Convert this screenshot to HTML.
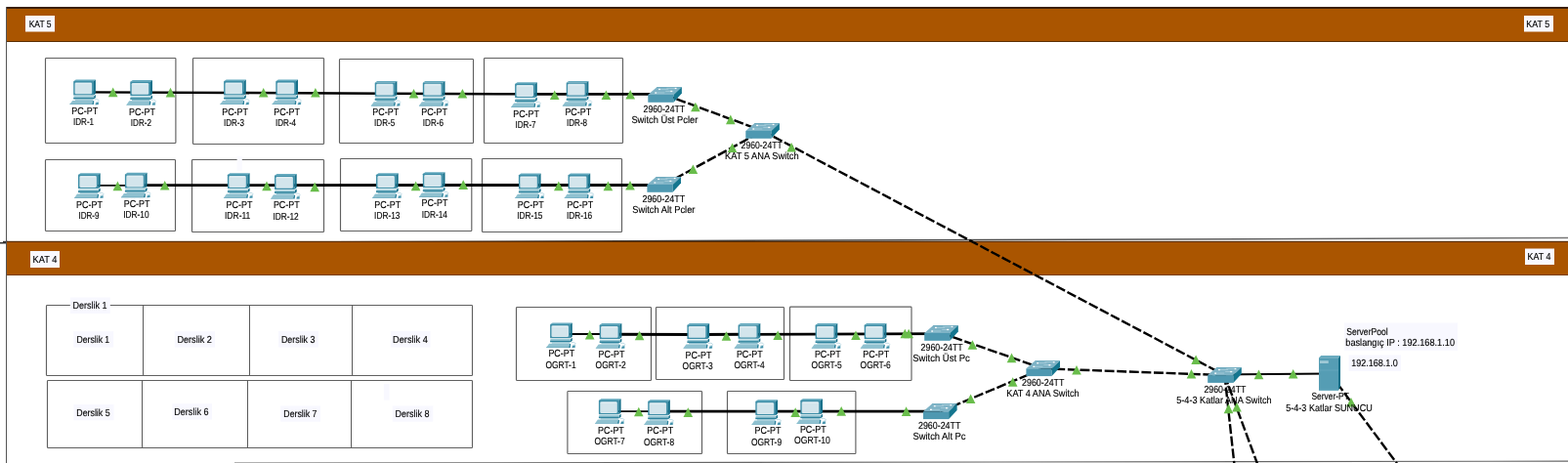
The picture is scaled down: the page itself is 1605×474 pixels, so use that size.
<!DOCTYPE html>
<html lang="tr">
<head>
<meta charset="utf-8">
<title>KAT 5 - KAT 4 Ağ Topolojisi</title>
<style>
html,body{margin:0;padding:0;background:#fff;}
body{width:1605px;height:474px;overflow:hidden;}
svg{display:block;will-change:transform;}
text{font-family:"Liberation Sans",sans-serif;text-rendering:geometricPrecision;fill:#000;stroke:#000;stroke-width:0.14px;}
</style>
</head>
<body>
<svg width="1605" height="474" viewBox="0 0 1605 474">
<defs>
<linearGradient id="slg" gradientUnits="userSpaceOnUse" x1="0" y1="0" x2="1605" y2="0"><stop offset="0" stop-color="#333"/><stop offset="0.6" stop-color="#4a4a4a"/><stop offset="1" stop-color="#777"/></linearGradient>
<symbol id="pc" width="32" height="27" viewBox="0 0 32 27" overflow="visible">
  <polygon points="3.7,1.7 6.2,0 26.4,0 24.3,1.7" fill="#64aabf"/>
  <rect x="3.7" y="1.5" width="20.7" height="14.4" rx="0.6" fill="#3f8fa8"/>
  <polygon points="24.3,1.7 26.4,0 26.4,14.1 24.3,15.9" fill="#17708a"/>
  <rect x="5.1" y="2.9" width="17.5" height="11.8" rx="1.3" fill="#d3e5ec"/>
  <rect x="5.9" y="3.5" width="15.9" height="1" rx="0.5" fill="#e4f0f4"/>
  <rect x="4" y="16.6" width="20.8" height="1.6" fill="#9ccad7"/>
  <polygon points="24.8,16.6 26.4,15.4 26.4,18.4 24.6,19.9" fill="#17708a"/>
  <rect x="3.7" y="18.2" width="20.9" height="1.7" fill="#2d839d"/>
  <rect x="5.4" y="19.9" width="18.2" height="1.3" fill="#8ec0cf"/>
  <polygon points="-0.3,25.5 2.7,21.3 23.6,21.3 22.6,25.5" fill="#8fc1d0"/>
  <polygon points="-0.3,25.5 22.6,25.5 22.6,24.9 0.1,24.9" fill="#6aaabd"/>
  <polygon points="22.6,25.5 23.6,21.3 24.8,21.9 24.4,25.5" fill="#2d839d"/>
  <path d="M25.4,20.4 C27.4,19.8 29.4,20.2 30,21.6" fill="none" stroke="#a9cfdc" stroke-width="0.8"/>
  <polygon points="26.6,22.6 29.9,21.8 29.6,25.4 25.6,25.6" fill="#b9d9e3"/>
  <polygon points="26.8,23.8 29,23.2 29.3,25.4 26.2,25.6" fill="#3f8fa8"/>
</symbol>
<symbol id="sw" width="36" height="17" viewBox="0 0 36 17" overflow="visible">
  <polygon points="9.2,0 34.6,0 26.2,8 0,8" fill="#7eb3c6"/>
  <rect x="0" y="8" width="26.2" height="7.8" fill="#4e98b1"/>
  <polygon points="26.2,8 34.6,0 34.6,6.6 26.2,15.8" fill="#15768f"/>
  <polygon points="9.2,0 34.6,0 34.2,0.5 8.7,0.5" fill="#5ea2b8"/>
  <g stroke="#a5ccd9" stroke-width="0.9" fill="none">
    <line x1="12" y1="2.4" x2="21" y2="2.4"/>
    <line x1="18" y1="4.4" x2="26" y2="4.4"/>
    <line x1="8" y1="6" x2="17" y2="6"/>
    <line x1="19" y1="1.3" x2="27.5" y2="1.3"/>
  </g>
  <g fill="#fff">
    <rect x="10.8" y="1.8" width="1.8" height="1.3"/>
    <rect x="27.4" y="0.8" width="1.8" height="1.3"/>
    <rect x="23" y="3.8" width="1.8" height="1.3"/>
    <rect x="7" y="5.4" width="1.8" height="1.3"/>
  </g>
</symbol>
<symbol id="srv" width="23" height="37" viewBox="0 0 23 37" overflow="visible">
  <polygon points="0,2.2 2.2,0 22,0 20,2.2" fill="#6aabbf"/>
  <rect x="0" y="2.2" width="20" height="33.6" fill="#559db4"/>
  <polygon points="20,2.2 22,0 22,31.6 20,35.8" fill="#0f7089"/>
  <rect x="1" y="5.2" width="8.8" height="2.8" fill="#9fc9d6"/>
  <rect x="0" y="14.6" width="20" height="0.8" fill="#67a9bd"/>
  <rect x="0" y="34.6" width="20" height="1.2" fill="#6aabbf"/>
</symbol>
</defs>
<rect x="6.0" y="8.0" width="1599.0" height="35.0" fill="#aa5500"/>
<rect x="6.0" y="7.0" width="1599.0" height="2.0" fill="#3b1f05"/>
<rect x="6.0" y="42.0" width="1599.0" height="1.0" fill="#5b2e02"/>
<line x1="0.0" y1="248.8" x2="1605.0" y2="243.6" stroke="url(#slg)" stroke-width="1.5"/>
<rect x="6.0" y="247.0" width="1599.0" height="35.0" fill="#aa5500"/>
<line x1="3.0" y1="247.4" x2="8.0" y2="247.4" stroke="#333" stroke-width="1.2"/>
<rect x="6.0" y="246.8" width="1599.0" height="1.2" fill="#5a2c02"/>
<rect x="6.0" y="281.0" width="1599.0" height="1.0" fill="#7a3d00"/>
<line x1="6.5" y1="7.0" x2="6.5" y2="474.0" stroke="#555" stroke-width="1"/>
<line x1="240.0" y1="474.1" x2="1605.0" y2="472.1" stroke="#666" stroke-width="1.1"/>
<rect x="26.0" y="16.0" width="30.0" height="16.5" fill="#f8f8ff"/>
<text x="29.7" y="28.0" textLength="22.9" lengthAdjust="spacingAndGlyphs" font-size="10.2">KAT 5</text>
<rect x="1560.0" y="16.0" width="30.0" height="16.5" fill="#f8f8ff"/>
<text x="1562.3" y="28.0" textLength="23.9" lengthAdjust="spacingAndGlyphs" font-size="10.2">KAT 5</text>
<rect x="31.0" y="257.0" width="30.0" height="17.0" fill="#f8f8ff"/>
<text x="33.6" y="269.0" textLength="24.8" lengthAdjust="spacingAndGlyphs" font-size="10.2">KAT 4</text>
<rect x="1561.0" y="254.5" width="30.0" height="16.5" fill="#f8f8ff"/>
<text x="1563.6" y="266.0" textLength="23.8" lengthAdjust="spacingAndGlyphs" font-size="10.2">KAT 4</text>
<rect x="46.5" y="59.5" width="133.4" height="87.0" rx="0.8" fill="none" stroke="#606060" stroke-width="1.15"/>
<rect x="197.5" y="59.5" width="134.0" height="88.0" rx="0.8" fill="none" stroke="#606060" stroke-width="1.15"/>
<rect x="347.5" y="60.5" width="137.0" height="86.0" rx="0.8" fill="none" stroke="#606060" stroke-width="1.15"/>
<rect x="495.5" y="59.5" width="142.0" height="87.0" rx="0.8" fill="none" stroke="#606060" stroke-width="1.15"/>
<rect x="46.5" y="163.5" width="133.0" height="73.0" rx="0.8" fill="none" stroke="#606060" stroke-width="1.15"/>
<rect x="196.5" y="163.5" width="135.0" height="74.0" rx="0.8" fill="none" stroke="#606060" stroke-width="1.15"/>
<rect x="348.5" y="162.5" width="134.3" height="74.0" rx="0.8" fill="none" stroke="#606060" stroke-width="1.15"/>
<rect x="493.5" y="162.5" width="143.0" height="75.0" rx="0.8" fill="none" stroke="#606060" stroke-width="1.15"/>
<rect x="528.5" y="314.5" width="138.0" height="75.0" rx="0.8" fill="none" stroke="#606060" stroke-width="1.15"/>
<rect x="671.5" y="314.5" width="131.0" height="74.0" rx="0.8" fill="none" stroke="#606060" stroke-width="1.15"/>
<rect x="808.5" y="314.1" width="124.5" height="75.4" rx="0.8" fill="none" stroke="#606060" stroke-width="1.15"/>
<rect x="580.9" y="400.5" width="137.6" height="64.0" rx="0.8" fill="none" stroke="#606060" stroke-width="1.15"/>
<rect x="744.5" y="400.5" width="131.4" height="64.0" rx="0.8" fill="none" stroke="#606060" stroke-width="1.15"/>
<rect x="47.5" y="312.5" width="436.0" height="72.0" rx="0.8" fill="none" stroke="#606060" stroke-width="1.15"/>
<line x1="146.5" y1="312.0" x2="146.5" y2="384.0" stroke="#5a5a5a" stroke-width="1"/>
<line x1="255.5" y1="312.0" x2="255.5" y2="384.0" stroke="#5a5a5a" stroke-width="1"/>
<line x1="360.5" y1="312.0" x2="360.5" y2="384.0" stroke="#5a5a5a" stroke-width="1"/>
<rect x="48.5" y="389.5" width="435.0" height="69.0" rx="0.8" fill="none" stroke="#606060" stroke-width="1.15"/>
<line x1="145.5" y1="389.0" x2="145.5" y2="458.0" stroke="#5a5a5a" stroke-width="1"/>
<line x1="253.5" y1="389.0" x2="253.5" y2="458.0" stroke="#5a5a5a" stroke-width="1"/>
<line x1="359.5" y1="389.0" x2="359.5" y2="458.0" stroke="#5a5a5a" stroke-width="1"/>
<rect x="71.8" y="304.4" width="41.0" height="16.7" fill="#f8f8ff"/>
<text x="74.4" y="316.0" textLength="35.0" lengthAdjust="spacingAndGlyphs" font-size="10.2">Derslik 1</text>
<rect x="75.2" y="339.2" width="41.0" height="16.4" fill="#f8f8ff"/>
<text x="78.5" y="351.0" textLength="33.7" lengthAdjust="spacingAndGlyphs" font-size="10.2">Derslik 1</text>
<rect x="178.8" y="339.2" width="41.2" height="16.4" fill="#f8f8ff"/>
<text x="181.4" y="351.0" textLength="35.5" lengthAdjust="spacingAndGlyphs" font-size="10.2">Derslik 2</text>
<rect x="284.9" y="339.0" width="41.1" height="16.5" fill="#f8f8ff"/>
<text x="287.9" y="351.0" textLength="34.6" lengthAdjust="spacingAndGlyphs" font-size="10.2">Derslik 3</text>
<rect x="399.8" y="339.0" width="40.8" height="16.5" fill="#f8f8ff"/>
<text x="402.1" y="351.0" textLength="35.8" lengthAdjust="spacingAndGlyphs" font-size="10.2">Derslik 4</text>
<rect x="75.4" y="413.9" width="41.2" height="16.4" fill="#f8f8ff"/>
<text x="78.3" y="426.0" textLength="34.3" lengthAdjust="spacingAndGlyphs" font-size="10.2">Derslik 5</text>
<rect x="176.3" y="413.2" width="40.7" height="16.4" fill="#f8f8ff"/>
<text x="178.3" y="425.0" textLength="35.2" lengthAdjust="spacingAndGlyphs" font-size="10.2">Derslik 6</text>
<rect x="287.2" y="415.4" width="40.8" height="16.3" fill="#f8f8ff"/>
<text x="290.3" y="427.0" textLength="34.1" lengthAdjust="spacingAndGlyphs" font-size="10.2">Derslik 7</text>
<rect x="401.7" y="415.4" width="41.6" height="16.3" fill="#f8f8ff"/>
<text x="404.5" y="427.0" textLength="34.9" lengthAdjust="spacingAndGlyphs" font-size="10.2">Derslik 8</text>
<rect x="392.8" y="393.0" width="5.8" height="16.6" fill="#f8f8ff"/>
<rect x="242.6" y="160.0" width="5.2" height="15.5" fill="#fafaff"/>
<rect x="1376.0" y="330.5" width="116.0" height="28.3" fill="#f8f8ff"/>
<text x="1378.2" y="343.0" textLength="42.5" lengthAdjust="spacingAndGlyphs" font-size="10.2">ServerPool</text>
<text x="1377.3" y="354.0" textLength="111.7" lengthAdjust="spacingAndGlyphs" font-size="10.2">baslangıç IP : 192.168.1.10</text>
<rect x="1380.6" y="363.4" width="53.4" height="16.6" fill="#f8f8ff"/>
<text x="1383.2" y="375.0" textLength="47.6" lengthAdjust="spacingAndGlyphs" font-size="10.2">192.168.1.0</text>
<line x1="85.0" y1="94.3" x2="240.0" y2="95.0" stroke="#000" stroke-width="2.3"/>
<line x1="240.0" y1="95.0" x2="395.0" y2="95.8" stroke="#000" stroke-width="2.6"/>
<line x1="395.0" y1="95.8" x2="540.0" y2="96.3" stroke="#000" stroke-width="2.4"/>
<line x1="540.0" y1="96.3" x2="680.0" y2="96.3" stroke="#000" stroke-width="2.8"/>
<line x1="90.0" y1="189.9" x2="140.0" y2="189.9" stroke="#000" stroke-width="1.8"/>
<line x1="140.0" y1="189.6" x2="680.0" y2="189.5" stroke="#000" stroke-width="2.9"/>
<line x1="575.0" y1="342.0" x2="626.0" y2="342.0" stroke="#000" stroke-width="1.8"/>
<line x1="626.0" y1="342.3" x2="715.0" y2="342.5" stroke="#000" stroke-width="2.9"/>
<line x1="715.0" y1="342.5" x2="964.0" y2="341.6" stroke="#000" stroke-width="2.9"/>
<line x1="625.0" y1="421.2" x2="675.0" y2="421.2" stroke="#000" stroke-width="1.8"/>
<line x1="675.0" y1="421.2" x2="962.0" y2="421.1" stroke="#000" stroke-width="2.8"/>
<line x1="1253.7" y1="383.4" x2="1361.0" y2="382.5" stroke="#000" stroke-width="2.2"/>
<line x1="680.6" y1="97.0" x2="780.6" y2="134.0" stroke="#000" stroke-width="2.4" stroke-dasharray="9.9 2.7"/>
<line x1="679.7" y1="189.0" x2="780.6" y2="134.0" stroke="#000" stroke-width="2.4" stroke-dasharray="9.9 2.7"/>
<line x1="780.6" y1="134.0" x2="1253.5" y2="384.1" stroke="#000" stroke-width="2.4" stroke-dasharray="9.9 2.7"/>
<line x1="963.5" y1="341.0" x2="1067.7" y2="377.3" stroke="#000" stroke-width="2.4" stroke-dasharray="9.9 2.7"/>
<line x1="962.3" y1="421.3" x2="1067.7" y2="377.3" stroke="#000" stroke-width="2.4" stroke-dasharray="9.9 2.7"/>
<line x1="1067.7" y1="377.3" x2="1253.5" y2="384.1" stroke="#000" stroke-width="2.4" stroke-dasharray="9.9 2.7"/>
<line x1="1253.5" y1="384.1" x2="1263.5" y2="476.0" stroke="#000" stroke-width="2.4" stroke-dasharray="9.9 2.7"/>
<line x1="1253.5" y1="384.1" x2="1287.5" y2="476.0" stroke="#000" stroke-width="2.4" stroke-dasharray="9.9 2.7"/>
<line x1="1361.0" y1="382.0" x2="1431.0" y2="476.0" stroke="#000" stroke-width="2.4" stroke-dasharray="9.9 2.7"/>
<use href="#pc" x="71.5" y="81.6"/>
<use href="#pc" x="129.6" y="82.0"/>
<use href="#pc" x="225.4" y="81.6"/>
<use href="#pc" x="278.6" y="81.6"/>
<use href="#pc" x="380.0" y="82.9"/>
<use href="#pc" x="429.1" y="82.9"/>
<use href="#pc" x="523.4" y="84.2"/>
<use href="#pc" x="576.0" y="82.9"/>
<use href="#pc" x="76.3" y="177.2"/>
<use href="#pc" x="124.2" y="176.7"/>
<use href="#pc" x="229.2" y="177.2"/>
<use href="#pc" x="277.3" y="178.0"/>
<use href="#pc" x="381.3" y="177.2"/>
<use href="#pc" x="429.1" y="176.2"/>
<use href="#pc" x="527.2" y="177.5"/>
<use href="#pc" x="577.8" y="177.5"/>
<use href="#pc" x="559.4" y="330.4"/>
<use href="#pc" x="610.0" y="331.1"/>
<use href="#pc" x="699.7" y="331.1"/>
<use href="#pc" x="751.9" y="330.9"/>
<use href="#pc" x="830.9" y="331.1"/>
<use href="#pc" x="881.0" y="331.1"/>
<use href="#pc" x="609.2" y="408.3"/>
<use href="#pc" x="659.5" y="409.3"/>
<use href="#pc" x="769.6" y="409.3"/>
<use href="#pc" x="815.6" y="408.3"/>
<use href="#sw" x="663.3" y="89.0"/>
<use href="#sw" x="763.3" y="126.0"/>
<use href="#sw" x="662.4" y="181.0"/>
<use href="#sw" x="946.2" y="333.0"/>
<use href="#sw" x="1050.4" y="369.3"/>
<use href="#sw" x="945.0" y="413.3"/>
<use href="#sw" x="1236.2" y="376.1"/>
<use href="#srv" x="1350.0" y="364.0"/>
<polygon points="115.7,89.6 120.5,99.2 110.9,99.2" fill="#69bd4b"/>
<polygon points="174.5,89.8 179.3,99.4 169.7,99.4" fill="#69bd4b"/>
<polygon points="269.7,90.0 274.5,99.6 264.9,99.6" fill="#69bd4b"/>
<polygon points="322.9,90.0 327.7,99.6 318.1,99.6" fill="#69bd4b"/>
<polygon points="423.5,91.0 428.3,100.6 418.7,100.6" fill="#69bd4b"/>
<polygon points="473.4,91.0 478.2,100.6 468.6,100.6" fill="#69bd4b"/>
<polygon points="567.7,92.5 572.5,102.1 562.9,102.1" fill="#69bd4b"/>
<polygon points="620.4,92.5 625.2,102.1 615.6,102.1" fill="#69bd4b"/>
<polygon points="645.2,92.0 650.0,101.6 640.4,101.6" fill="#69bd4b"/>
<polygon points="120.4,185.6 125.2,195.2 115.6,195.2" fill="#69bd4b"/>
<polygon points="168.7,185.0 173.5,194.6 163.9,194.6" fill="#69bd4b"/>
<polygon points="273.0,185.6 277.8,195.2 268.2,195.2" fill="#69bd4b"/>
<polygon points="322.2,186.6 327.0,196.2 317.4,196.2" fill="#69bd4b"/>
<polygon points="425.6,185.6 430.4,195.2 420.8,195.2" fill="#69bd4b"/>
<polygon points="474.2,184.3 479.0,193.9 469.4,193.9" fill="#69bd4b"/>
<polygon points="571.8,185.6 576.6,195.2 567.0,195.2" fill="#69bd4b"/>
<polygon points="622.4,185.6 627.2,195.2 617.6,195.2" fill="#69bd4b"/>
<polygon points="645.0,185.0 649.8,194.6 640.2,194.6" fill="#69bd4b"/>
<polygon points="711.9,104.7 716.7,114.3 707.1,114.3" fill="#69bd4b"/>
<polygon points="747.8,117.6 752.6,127.2 743.0,127.2" fill="#69bd4b"/>
<polygon points="749.6,146.5 754.4,156.1 744.8,156.1" fill="#69bd4b"/>
<polygon points="810.1,146.0 814.9,155.6 805.3,155.6" fill="#69bd4b"/>
<polygon points="709.4,168.4 714.2,178.0 704.6,178.0" fill="#69bd4b"/>
<polygon points="603.7,338.0 608.5,347.6 598.9,347.6" fill="#69bd4b"/>
<polygon points="654.6,338.7 659.4,348.3 649.8,348.3" fill="#69bd4b"/>
<polygon points="743.5,339.2 748.3,348.8 738.7,348.8" fill="#69bd4b"/>
<polygon points="796.2,338.5 801.0,348.1 791.4,348.1" fill="#69bd4b"/>
<polygon points="876.0,338.5 880.8,348.1 871.2,348.1" fill="#69bd4b"/>
<polygon points="926.3,336.7 931.1,346.3 921.5,346.3" fill="#69bd4b"/>
<polygon points="930.2,336.7 935.0,346.3 925.4,346.3" fill="#69bd4b"/>
<polygon points="653.8,416.7 658.6,426.3 649.0,426.3" fill="#69bd4b"/>
<polygon points="704.3,417.3 709.1,426.9 699.5,426.9" fill="#69bd4b"/>
<polygon points="814.2,417.3 819.0,426.9 809.4,426.9" fill="#69bd4b"/>
<polygon points="861.2,416.1 866.0,425.7 856.4,425.7" fill="#69bd4b"/>
<polygon points="927.6,416.3 932.4,425.9 922.8,425.9" fill="#69bd4b"/>
<polygon points="995.4,348.2 1000.2,357.8 990.6,357.8" fill="#69bd4b"/>
<polygon points="1035.5,361.6 1040.3,371.2 1030.7,371.2" fill="#69bd4b"/>
<polygon points="1036.7,386.2 1041.5,395.8 1031.9,395.8" fill="#69bd4b"/>
<polygon points="993.6,403.5 998.4,413.1 988.8,413.1" fill="#69bd4b"/>
<polygon points="1102.0,374.0 1106.8,383.6 1097.2,383.6" fill="#69bd4b"/>
<polygon points="1224.1,363.4 1228.9,373.0 1219.3,373.0" fill="#69bd4b"/>
<polygon points="1219.5,378.0 1224.3,387.6 1214.7,387.6" fill="#69bd4b"/>
<polygon points="1288.5,378.6 1293.3,388.2 1283.7,388.2" fill="#69bd4b"/>
<polygon points="1323.7,378.0 1328.5,387.6 1318.9,387.6" fill="#69bd4b"/>
<polygon points="1257.5,413.6 1262.3,423.2 1252.7,423.2" fill="#69bd4b"/>
<polygon points="1266.0,412.0 1270.8,421.6 1261.2,421.6" fill="#69bd4b"/>
<polygon points="1383.0,406.9 1387.8,416.5 1378.2,416.5" fill="#69bd4b"/>
<text x="73.3" y="117.0" textLength="26.8" lengthAdjust="spacingAndGlyphs" font-size="10.2">PC-PT</text>
<text x="75.0" y="128.0" textLength="21.1" lengthAdjust="spacingAndGlyphs" font-size="10.2">IDR-1</text>
<text x="132.1" y="118.0" textLength="26.8" lengthAdjust="spacingAndGlyphs" font-size="10.2">PC-PT</text>
<text x="133.8" y="129.0" textLength="21.1" lengthAdjust="spacingAndGlyphs" font-size="10.2">IDR-2</text>
<text x="227.2" y="118.0" textLength="26.8" lengthAdjust="spacingAndGlyphs" font-size="10.2">PC-PT</text>
<text x="228.9" y="129.0" textLength="21.1" lengthAdjust="spacingAndGlyphs" font-size="10.2">IDR-3</text>
<text x="280.2" y="118.0" textLength="26.8" lengthAdjust="spacingAndGlyphs" font-size="10.2">PC-PT</text>
<text x="282.0" y="129.0" textLength="21.1" lengthAdjust="spacingAndGlyphs" font-size="10.2">IDR-4</text>
<text x="381.3" y="118.0" textLength="26.8" lengthAdjust="spacingAndGlyphs" font-size="10.2">PC-PT</text>
<text x="383.1" y="129.0" textLength="21.1" lengthAdjust="spacingAndGlyphs" font-size="10.2">IDR-5</text>
<text x="431.2" y="118.0" textLength="26.8" lengthAdjust="spacingAndGlyphs" font-size="10.2">PC-PT</text>
<text x="432.8" y="129.0" textLength="21.1" lengthAdjust="spacingAndGlyphs" font-size="10.2">IDR-6</text>
<text x="525.2" y="120.0" textLength="26.8" lengthAdjust="spacingAndGlyphs" font-size="10.2">PC-PT</text>
<text x="527.5" y="131.0" textLength="21.1" lengthAdjust="spacingAndGlyphs" font-size="10.2">IDR-7</text>
<text x="578.4" y="118.0" textLength="26.8" lengthAdjust="spacingAndGlyphs" font-size="10.2">PC-PT</text>
<text x="580.0" y="129.0" textLength="21.1" lengthAdjust="spacingAndGlyphs" font-size="10.2">IDR-8</text>
<text x="78.1" y="213.0" textLength="26.8" lengthAdjust="spacingAndGlyphs" font-size="10.2">PC-PT</text>
<text x="80.4" y="224.0" textLength="21.1" lengthAdjust="spacingAndGlyphs" font-size="10.2">IDR-9</text>
<text x="126.7" y="212.0" textLength="26.8" lengthAdjust="spacingAndGlyphs" font-size="10.2">PC-PT</text>
<text x="126.3" y="223.0" textLength="26.3" lengthAdjust="spacingAndGlyphs" font-size="10.2">IDR-10</text>
<text x="231.6" y="213.0" textLength="26.8" lengthAdjust="spacingAndGlyphs" font-size="10.2">PC-PT</text>
<text x="230.0" y="224.0" textLength="26.3" lengthAdjust="spacingAndGlyphs" font-size="10.2">IDR-11</text>
<text x="279.9" y="213.0" textLength="26.8" lengthAdjust="spacingAndGlyphs" font-size="10.2">PC-PT</text>
<text x="279.4" y="225.0" textLength="26.3" lengthAdjust="spacingAndGlyphs" font-size="10.2">IDR-12</text>
<text x="383.3" y="213.0" textLength="26.8" lengthAdjust="spacingAndGlyphs" font-size="10.2">PC-PT</text>
<text x="383.1" y="224.0" textLength="26.3" lengthAdjust="spacingAndGlyphs" font-size="10.2">IDR-13</text>
<text x="431.6" y="211.0" textLength="26.8" lengthAdjust="spacingAndGlyphs" font-size="10.2">PC-PT</text>
<text x="431.7" y="223.0" textLength="26.3" lengthAdjust="spacingAndGlyphs" font-size="10.2">IDR-14</text>
<text x="529.8" y="213.0" textLength="26.8" lengthAdjust="spacingAndGlyphs" font-size="10.2">PC-PT</text>
<text x="529.2" y="224.0" textLength="26.3" lengthAdjust="spacingAndGlyphs" font-size="10.2">IDR-15</text>
<text x="580.4" y="213.0" textLength="26.8" lengthAdjust="spacingAndGlyphs" font-size="10.2">PC-PT</text>
<text x="579.9" y="224.0" textLength="26.3" lengthAdjust="spacingAndGlyphs" font-size="10.2">IDR-16</text>
<text x="561.4" y="365.0" textLength="26.8" lengthAdjust="spacingAndGlyphs" font-size="10.2">PC-PT</text>
<text x="558.4" y="377.0" textLength="31.2" lengthAdjust="spacingAndGlyphs" font-size="10.2">OGRT-1</text>
<text x="612.6" y="366.0" textLength="26.8" lengthAdjust="spacingAndGlyphs" font-size="10.2">PC-PT</text>
<text x="609.6" y="377.0" textLength="31.2" lengthAdjust="spacingAndGlyphs" font-size="10.2">OGRT-2</text>
<text x="701.6" y="367.0" textLength="26.8" lengthAdjust="spacingAndGlyphs" font-size="10.2">PC-PT</text>
<text x="698.6" y="378.0" textLength="31.2" lengthAdjust="spacingAndGlyphs" font-size="10.2">OGRT-3</text>
<text x="753.9" y="366.0" textLength="26.8" lengthAdjust="spacingAndGlyphs" font-size="10.2">PC-PT</text>
<text x="751.4" y="377.0" textLength="31.2" lengthAdjust="spacingAndGlyphs" font-size="10.2">OGRT-4</text>
<text x="833.9" y="366.0" textLength="26.8" lengthAdjust="spacingAndGlyphs" font-size="10.2">PC-PT</text>
<text x="830.6" y="377.0" textLength="31.2" lengthAdjust="spacingAndGlyphs" font-size="10.2">OGRT-5</text>
<text x="883.3" y="366.0" textLength="26.8" lengthAdjust="spacingAndGlyphs" font-size="10.2">PC-PT</text>
<text x="880.6" y="377.0" textLength="31.2" lengthAdjust="spacingAndGlyphs" font-size="10.2">OGRT-6</text>
<text x="612.0" y="444.0" textLength="26.8" lengthAdjust="spacingAndGlyphs" font-size="10.2">PC-PT</text>
<text x="608.4" y="455.0" textLength="31.2" lengthAdjust="spacingAndGlyphs" font-size="10.2">OGRT-7</text>
<text x="662.3" y="444.0" textLength="26.8" lengthAdjust="spacingAndGlyphs" font-size="10.2">PC-PT</text>
<text x="658.9" y="456.0" textLength="31.2" lengthAdjust="spacingAndGlyphs" font-size="10.2">OGRT-8</text>
<text x="772.6" y="444.0" textLength="26.8" lengthAdjust="spacingAndGlyphs" font-size="10.2">PC-PT</text>
<text x="768.9" y="456.0" textLength="31.2" lengthAdjust="spacingAndGlyphs" font-size="10.2">OGRT-9</text>
<text x="818.9" y="443.0" textLength="26.8" lengthAdjust="spacingAndGlyphs" font-size="10.2">PC-PT</text>
<text x="813.1" y="454.0" textLength="36.8" lengthAdjust="spacingAndGlyphs" font-size="10.2">OGRT-10</text>
<text x="658.6" y="115.0" textLength="42.6" lengthAdjust="spacingAndGlyphs" font-size="10.2">2960-24TT</text>
<text x="646.4" y="126.0" textLength="67.9" lengthAdjust="spacingAndGlyphs" font-size="10.2">Switch Üst Pcler</text>
<text x="758.6" y="152.0" textLength="42.1" lengthAdjust="spacingAndGlyphs" font-size="10.2">2960-24TT</text>
<text x="742.1" y="163.0" textLength="75.5" lengthAdjust="spacingAndGlyphs" font-size="10.2">KAT 5 ANA Switch</text>
<text x="657.4" y="207.0" textLength="43.9" lengthAdjust="spacingAndGlyphs" font-size="10.2">2960-24TT</text>
<text x="647.3" y="218.0" textLength="64.1" lengthAdjust="spacingAndGlyphs" font-size="10.2">Switch Alt Pcler</text>
<text x="942.6" y="359.0" textLength="43.1" lengthAdjust="spacingAndGlyphs" font-size="10.2">2960-24TT</text>
<text x="934.3" y="370.0" textLength="58.5" lengthAdjust="spacingAndGlyphs" font-size="10.2">Switch Üst Pc</text>
<text x="1046.1" y="395.0" textLength="43.3" lengthAdjust="spacingAndGlyphs" font-size="10.2">2960-24TT</text>
<text x="1030.3" y="406.0" textLength="74.3" lengthAdjust="spacingAndGlyphs" font-size="10.2">KAT 4 ANA Switch</text>
<text x="940.0" y="439.0" textLength="43.4" lengthAdjust="spacingAndGlyphs" font-size="10.2">2960-24TT</text>
<text x="934.5" y="450.0" textLength="54.0" lengthAdjust="spacingAndGlyphs" font-size="10.2">Switch Alt Pc</text>
<text x="1232.4" y="402.0" textLength="43.1" lengthAdjust="spacingAndGlyphs" font-size="10.2">2960-24TT</text>
<text x="1204.2" y="413.0" textLength="97.5" lengthAdjust="spacingAndGlyphs" font-size="10.2">5-4-3 Katlar ANA Switch</text>
<text x="1342.4" y="409.0" textLength="38.5" lengthAdjust="spacingAndGlyphs" font-size="10.2">Server-PT</text>
<text x="1316.3" y="421.0" textLength="88.4" lengthAdjust="spacingAndGlyphs" font-size="10.2">5-4-3 Katlar SUNUCU</text>
</svg>
</body>
</html>
